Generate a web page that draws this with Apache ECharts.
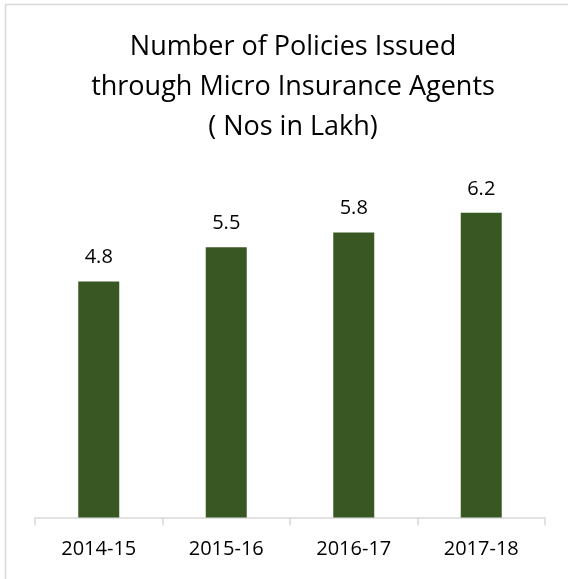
<!DOCTYPE html>
<html>
<head>
<meta charset="utf-8">
<script src="https://cdn.jsdelivr.net/npm/echarts@6/dist/echarts.min.js"></script>
<style>
html,body{margin:0;padding:0;background:#fff;}
#chart{width:568px;height:579px;}
</style>
</head>
<body>
<div id="chart"></div>
<script>
const titleText = 'Number of Policies Issued\nthrough Micro Insurance Agents\n( Nos in Lakh)';
const categories = ['2014-15', '2015-16', '2016-17', '2017-18'];
const policies = [4.8, 5.5, 5.8, 6.2];

const chart = echarts.init(document.getElementById('chart'), null, {renderer: 'canvas'});
const FONT = '"Open Sans", sans-serif';
chart.setOption({
  animation: false,
  backgroundColor: '#ffffff',
  graphic: [{
    type: 'rect',
    shape: {x: 5.5, y: 4.5, width: 600, height: 600},
    style: {fill: 'none', stroke: '#d9d9d9', lineWidth: 1.5},
    silent: true,
    z: -10
  }],
  title: {
    text: titleText,
    left: 288,
    textAlign: 'center',
    top: 22,
    textStyle: {
      fontFamily: FONT,
      fontSize: 27,
      fontWeight: 'normal',
      color: '#000000',
      lineHeight: 40
    }
  },
  grid: {left: 35, right: 23, top: 173.5, bottom: 61.5, containLabel: false},
  xAxis: {
    type: 'category',
    data: categories,
    axisLine: {lineStyle: {color: '#d9d9d9', width: 1.5}},
    axisTick: {show: true, length: 8, lineStyle: {color: '#d9d9d9', width: 1.5}},
    axisLabel: {fontFamily: FONT, fontSize: 20, color: '#000000', margin: 22}
  },
  yAxis: {
    type: 'value',
    min: 0,
    max: 7,
    show: false,
    splitLine: {show: false}
  },
  series: [{
    type: 'bar',
    data: policies,
    barWidth: 41,
    itemStyle: {color: '#385723'},
    label: {
      show: true,
      position: 'top',
      distance: 14,
      fontFamily: FONT,
      fontSize: 20,
      color: '#000000',
      formatter: p => p.value.toFixed(1)
    }
  }]
});
</script>
</body>
</html>
